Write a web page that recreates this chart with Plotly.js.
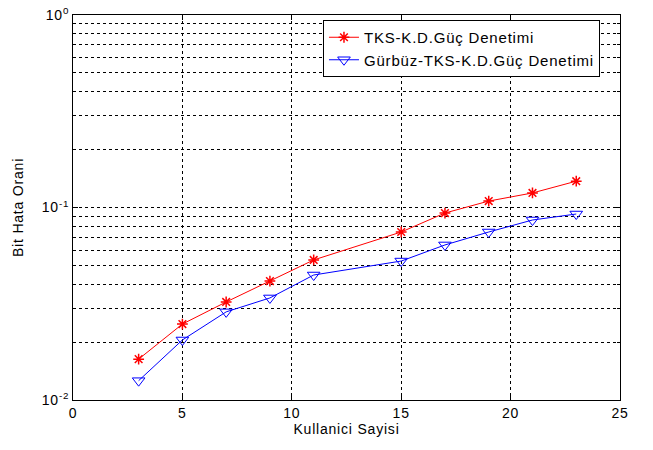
<!DOCTYPE html>
<html><head><meta charset="utf-8">
<script src="https://cdn.plot.ly/plotly-3.0.1.min.js"></script>
<style>
html,body{margin:0;padding:0;background:#fff}
svg text{letter-spacing:0.8px}
</style>
</head><body>
<div id="chart" style="width:653px;height:450px"></div>
<script>
var users = [3, 5, 7, 9, 11, 15, 17, 19, 21, 23];
var berTKS = [0.0163, 0.0248, 0.0323, 0.0415, 0.0534, 0.0746, 0.0936, 0.108, 0.119, 0.137];
var berGurbuz = [0.0126, 0.0205, 0.0287, 0.0339, 0.0446, 0.0527, 0.0639, 0.0746, 0.0861, 0.0925];
var seriesNames = ['TKS-K.D.Güç Denetimi', 'Gürbüz-TKS-K.D.Güç Denetimi'];
var xTicks = [0, 5, 10, 15, 20, 25];
var yTicks = [0.01, 0.1, 1];
var yTickText = ['10<sup>-2</sup>', '10<sup>-1</sup>', '10<sup>0</sup>'];

var traces = [
  {x: users, y: berTKS, name: seriesNames[0], mode: 'lines+markers', type: 'scatter',
   line: {color: '#ff0000', width: 1},
   marker: {symbol: 'asterisk-open', size: 9, color: '#ff0000', line: {color: '#ff0000', width: 1.5}}},
  {x: users, y: berGurbuz, name: seriesNames[1], mode: 'lines+markers', type: 'scatter',
   line: {color: '#0000ff', width: 1},
   marker: {symbol: 'triangle-down-open', size: 11, color: '#0000ff', line: {color: '#0000ff', width: 1}}}
];

var grid = {gridcolor: '#000', griddash: '3px,3px', gridwidth: 1};
var layout = {
  width: 653, height: 450,
  margin: {l: 73, r: 33, t: 15, b: 50},
  paper_bgcolor: '#fff', plot_bgcolor: '#fff',
  font: {family: 'Liberation Sans, Arial, sans-serif', size: 14, color: '#000'},
  showlegend: true,
  legend: {x: 0.457, y: 0.987, xanchor: 'left', yanchor: 'top', bgcolor: '#fff',
           bordercolor: '#000', borderwidth: 1, font: {size: 15}, tracegroupgap: 0,
           itemwidth: 30},
  xaxis: Object.assign({range: [0, 25], tickvals: xTicks, ticks: 'inside', ticklen: 5, tickcolor: '#000',
          showline: true, mirror: 'ticks', linecolor: '#000', linewidth: 1,
          showgrid: true, zeroline: false,
          title: {text: 'Kullanici Sayisi', font: {size: 14}, standoff: 4}}, grid),
  yaxis: Object.assign({type: 'log', range: [-2, 0], tickvals: yTicks, ticktext: yTickText,
          ticks: 'inside', ticklen: 5, tickcolor: '#000',
          showline: true, mirror: 'ticks', linecolor: '#000', linewidth: 1,
          showgrid: true, zeroline: false,
          minor: Object.assign({dtick: 'D1', showgrid: true, ticks: 'inside', ticklen: 3, tickcolor: '#000'}, grid),
          title: {text: 'Bit Hata Orani', font: {size: 14}, standoff: 14}}, grid)
};
Plotly.newPlot('chart', traces, layout, {staticPlot: true});
</script>
</body></html>
